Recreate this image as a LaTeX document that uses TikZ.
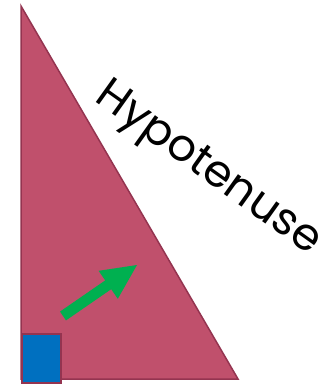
\documentclass[tikz,border=0pt]{standalone}
\usepackage{fontspec}
\setmainfont{Poppins}
\definecolor{tri}{RGB}{192,80,108}
\definecolor{triedge}{RGB}{148,52,80}
\definecolor{sqblue}{RGB}{0,112,192}
\definecolor{arrgreen}{RGB}{0,176,80}
\begin{document}
\begin{tikzpicture}[x=1pt,y=-1pt]
\useasboundingbox (0,0) rectangle (326,387);
\coordinate (top) at (21,6);
\coordinate (bl) at (21,379);
\coordinate (br) at (238,379);
\fill[tri, draw=triedge, line width=1.5pt, line join=miter] (top) -- (bl) -- (br) -- cycle;
\filldraw[fill=sqblue, draw=triedge, line width=1.5pt] (22,334) rectangle (61,383);
\fill[arrgreen] (60,311.6) -- (105.2,280.4) -- (98.6,270.8) -- (137,265) -- (117.8,298.8) -- (111.2,289.2) -- (66,320.4) -- cycle;
\node[rotate=-35.5, font=\fontsize{44.5}{44.5}\selectfont, inner sep=0pt] (hyp) at (207,170) {Hypotenuse};
\end{tikzpicture}
\end{document}
